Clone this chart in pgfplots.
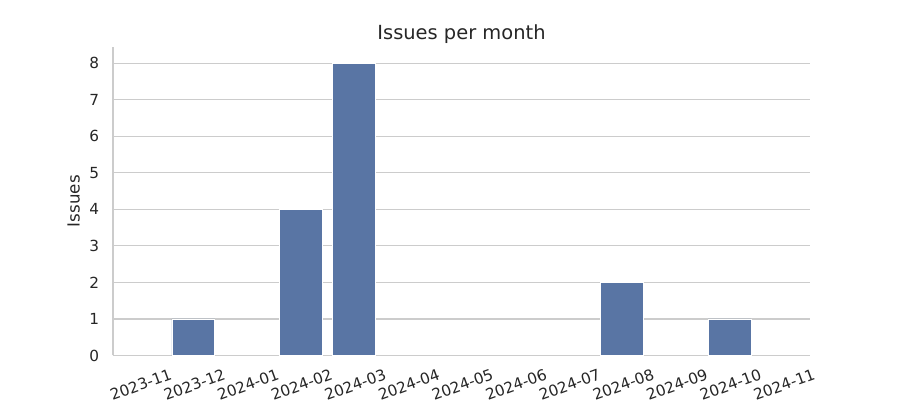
\documentclass[border=0pt]{standalone}
\usepackage{pgfplots}
\pgfplotsset{compat=1.18}
\usepackage{fontspec}
\setmainfont{DejaVu Sans}
\definecolor{barblue}{HTML}{5975A4}
\definecolor{gridgray}{HTML}{CCCCCC}
\definecolor{textgray}{HTML}{262626}
\begin{document}
\begin{tikzpicture}[x=1pt,y=1pt]
\path[use as bounding box] (-81.36pt,-32.04pt) rectangle (566.64pt,255.96pt);
\begin{axis}[
  at={(0,0)}, anchor=south west,
  scale only axis, width=501.84pt, height=222.3pt,
  xmin=-0.5, xmax=12.5, ymin=0, ymax=8.45,
  ybar, bar width=0.8, bar shift=0pt,
  xtick={0,...,12},
  xticklabels={2023-11,2023-12,2024-01,2024-02,2024-03,2024-04,2024-05,2024-06,2024-07,2024-08,2024-09,2024-10,2024-11},
  ytick={0,...,8},
  xticklabel style={xshift=23pt, yshift=-4.6pt, rotate=20, anchor=north east, font=\fontsize{11}{13}\selectfont, text=textgray},
  yticklabel style={font=\fontsize{11}{13}\selectfont, text=textgray, xshift=-6.5pt},
  /pgf/number format/assume math mode=true,
  major tick length=0pt,
  ymajorgrids, grid style={gridgray, line width=0.8pt},
  axis x line*=bottom, axis y line*=left,
  axis line style={gridgray, line width=1pt, -},
  ylabel={Issues},
  every axis y label/.style={at={(axis description cs:0,0.5)}, anchor=center, xshift=-28.4pt, rotate=90, font=\fontsize{12}{14}\selectfont, text=textgray},
  title={Issues per month},
  every axis title/.style={at={(axis description cs:0.5,1)}, anchor=base, yshift=5pt, font=\fontsize{14}{16}\selectfont, text=textgray},
]
\addplot[fill=barblue, draw=white, line width=0.6pt,
  y filter/.expression={y==0 ? nan : y}] coordinates {
(0,0) (1,1) (2,0) (3,4) (4,8) (5,0) (6,0) (7,0) (8,0) (9,2) (10,0) (11,1) (12,0)};
\end{axis}
\end{tikzpicture}
\end{document}
